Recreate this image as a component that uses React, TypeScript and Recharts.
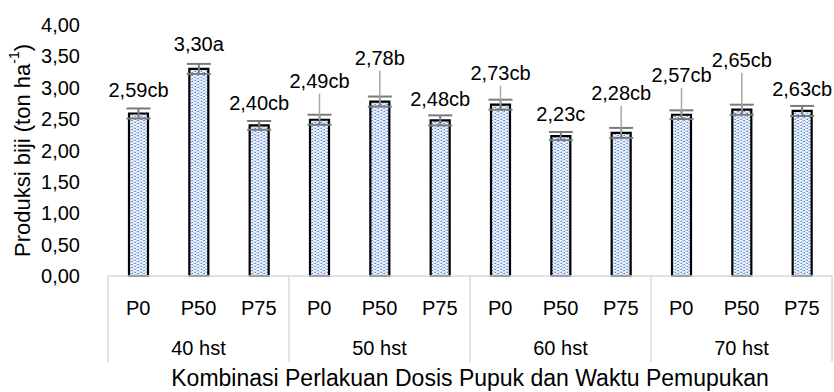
import { BarChart, Bar, XAxis, YAxis, ErrorBar, LabelList } from "recharts";

const categories = ["P0", "P50", "P75", "P0", "P50", "P75", "P0", "P50", "P75", "P0", "P50", "P75"];
const groups = ["40 hst", "50 hst", "60 hst", "70 hst"];
const yields = [2.59, 3.3, 2.4, 2.49, 2.78, 2.48, 2.73, 2.23, 2.28, 2.57, 2.65, 2.63];
const errors = [0.08, 0.08, 0.07, 0.08, 0.08, 0.08, 0.08, 0.065, 0.08, 0.07, 0.08, 0.08];
const letters = ["cb", "a", "cb", "cb", "b", "cb", "cb", "c", "cb", "cb", "cb", "cb"];
const yTicks = [0, 0.5, 1, 1.5, 2, 2.5, 3, 3.5, 4];

// how far (px) each data label sits above its bar, Excel-style manual nudges
const labelRaise = [23, 25, 22, 39, 44, 21, 32, 22, 40, 40, 50, 22];

const W = 834;
const H = 392;
const TOP = 25;
const AXIS_Y = 276;
const PLOT_LEFT = 108;
const PLOT_RIGHT = 832;
const FONT = "'Liberation Sans', Arial, sans-serif";
const FS = 20;

const data = categories.map((c, i) => ({
  cat: c,
  key: `${groups[Math.floor(i / 3)]}-${c}`,
  value: yields[i],
  err: errors[i],
  note: letters[i],
}));

const comma = (v: number) => v.toFixed(2).replace(".", ",");

function CatTick(props: any) {
  const { x, y, payload } = props;
  const idx = payload.index;
  const step = (PLOT_RIGHT - PLOT_LEFT) / categories.length;
  const left = x - step / 2;
  return (
    <g>
      <text x={x} y={y + 32} textAnchor="middle" dominantBaseline="central" fontSize={FS} fontFamily={FONT} fill="#000">
        {categories[idx]}
      </text>
      {idx % 3 === 1 && (
        <text x={x} y={y + 72} textAnchor="middle" dominantBaseline="central" fontSize={FS} fontFamily={FONT} fill="#000">
          {groups[Math.floor(idx / 3)]}
        </text>
      )}
      {idx % 3 === 0 && <line x1={left} x2={left} y1={y} y2={y + 86} stroke="#d9d9d9" strokeWidth={1.5} />}
      {idx === categories.length - 1 && (
        <line x1={x + step / 2} x2={x + step / 2} y1={y} y2={y + 86} stroke="#d9d9d9" strokeWidth={1.5} />
      )}
    </g>
  );
}

function ValTick(props: any) {
  const { y, payload } = props;
  return (
    <text x={80} y={y} textAnchor="end" dominantBaseline="central" fontSize={FS} fontFamily={FONT} fill="#000">
      {comma(payload.value)}
    </text>
  );
}

function ValueLabel(props: any) {
  const { x, y, width, index } = props;
  const cx = x + width / 2;
  const ly = y - labelRaise[index];
  return (
    <g>
      {labelRaise[index] > 30 && (
        <line x1={cx} x2={cx} y1={ly + 13} y2={y} stroke="#a6a6a6" strokeWidth={1.5} />
      )}
      <text x={cx} y={ly} textAnchor="middle" dominantBaseline="central" fontSize={FS} fontFamily={FONT} fill="#000">
        {comma(yields[index]) + letters[index]}
      </text>
    </g>
  );
}

export default function App() {
  return (
    <div style={{ position: "absolute", left: 0, top: 0, width: W, height: H, background: "#fff" }}>
      <BarChart
        width={W}
        height={H}
        data={data}
        margin={{ top: TOP, right: W - PLOT_RIGHT, bottom: 16, left: 0 }}
      >
        <defs>
          <pattern id="zig" width="6" height="6" patternUnits="userSpaceOnUse">
            <rect width="6" height="6" fill="#fff" />
            <path d="M0 0 L3 3 L6 0 M0 3 L3 6 L6 3" stroke="#4a7fd0" strokeWidth={1.1} strokeDasharray="1.3 0.9" fill="none" />
          </pattern>
        </defs>
        <XAxis
          dataKey="key"
          height={H - 16 - AXIS_Y}
          interval={0}
          tickLine={false}
          tickSize={0}
          tickMargin={0}
          axisLine={{ stroke: "#d9d9d9", strokeWidth: 1.5 }}
          tick={<CatTick />}
          label={{
            content: () => (
              <text x={(PLOT_LEFT + PLOT_RIGHT) / 2} y={378} textAnchor="middle" dominantBaseline="central" fontSize={23} fontFamily={FONT} fill="#000">
                Kombinasi Perlakuan Dosis Pupuk dan Waktu Pemupukan
              </text>
            ),
          }}
        />
        <YAxis
          width={PLOT_LEFT}
          domain={[0, 4]}
          ticks={yTicks}
          axisLine={false}
          tickLine={false}
          tick={<ValTick />}
          label={{
            content: () => (
              <text
                transform={`translate(22, ${(TOP + AXIS_Y) / 2}) rotate(-90)`}
                textAnchor="middle"
                dominantBaseline="central"
                fontSize={22}
                fontFamily={FONT}
                fill="#000"
              >
                Produksi biji (ton ha
                <tspan dy={-8} fontSize={14}>-1</tspan>
                <tspan dy={8}>)</tspan>
              </text>
            ),
          }}
        />
        <Bar dataKey="value" fill="url(#zig)" stroke="#000" strokeWidth={2.2} barSize={19} isAnimationActive={false}>
          <ErrorBar dataKey="err" width={12} stroke="#7a7a7a" strokeWidth={2} direction="y" isAnimationActive={false} />
          <LabelList dataKey="value" content={<ValueLabel />} />
        </Bar>
      </BarChart>
    </div>
  );
}
